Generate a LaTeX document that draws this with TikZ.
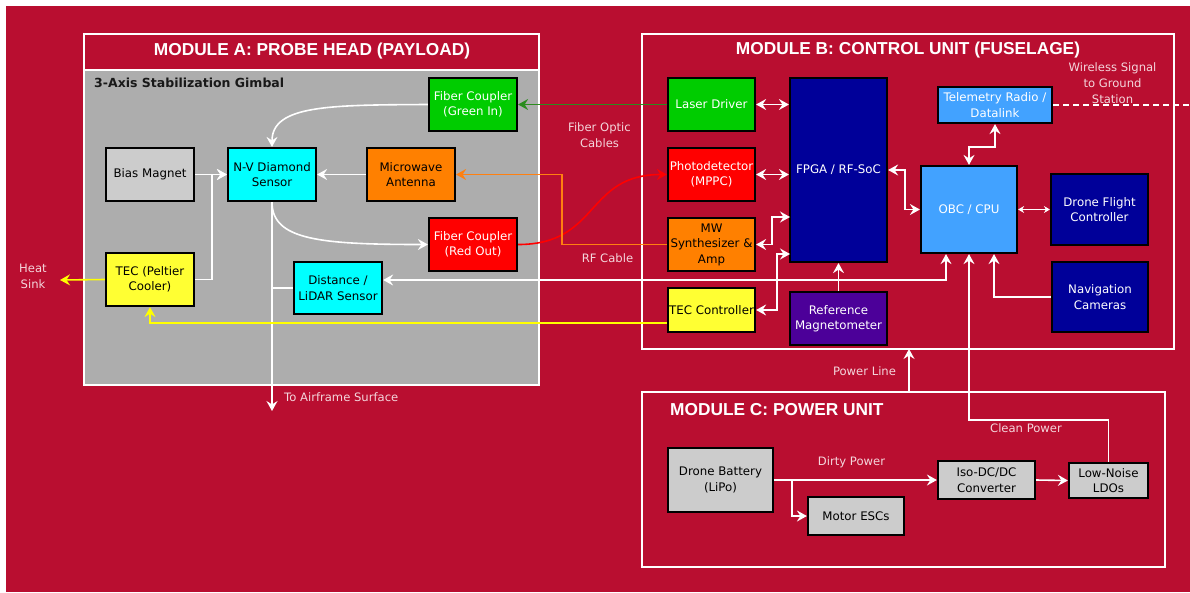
\documentclass[tikz,border=0pt]{standalone}
\usepackage{fontspec}
\setmainfont{DejaVu Sans}
\newfontfamily\hfont{Liberation Sans}
\usetikzlibrary{arrows.meta,calc}

\definecolor{bgred}{HTML}{B90E30}
\definecolor{gimbalgray}{HTML}{ADADAD}
\definecolor{lgray}{HTML}{CCCCCC}
\definecolor{fgreen}{HTML}{00CC00}
\definecolor{fred}{HTML}{FF0000}
\definecolor{forange}{HTML}{FF8000}
\definecolor{fyellow}{HTML}{FFFF33}
\definecolor{fcyan}{HTML}{00FFFF}
\definecolor{fnavy}{HTML}{000099}
\definecolor{fsky}{HTML}{42A2FF}
\definecolor{fpurple}{HTML}{4C0099}
\definecolor{lbl}{HTML}{F4D6DC}
\definecolor{fibergreen}{HTML}{2A8C1E}
\definecolor{rforange}{HTML}{FF8010}
\definecolor{tecyellow}{HTML}{FFFF00}

\newcommand{\boxfont}{\fontsize{11.8}{15.5}\selectfont}
\newcommand{\lblfont}{\fontsize{11.6}{16}\selectfont}

\tikzset{
  box/.style={draw=black, line width=2.2pt, minimum width=88pt, minimum height=53pt,
    align=center, inner sep=1pt, font=\boxfont},
  modbox/.style={draw=white, line width=2pt, inner sep=0pt},
  modtitle/.style={text=white, font=\hfont\bfseries\fontsize{17.3}{20}\selectfont, inner sep=0pt},
  lbltext/.style={text=lbl, font=\lblfont, align=center, inner sep=0pt},
  wire/.style={white, line width=1.6pt},
  thinwire/.style={white, line width=1pt},
}

\begin{document}
\begin{tikzpicture}[x=1pt, y=-1pt, >={Stealth[length=10pt,width=11pt,inset=3.5pt]}]
\useasboundingbox (0,0) rectangle (1190,592);
\fill[white] (0,0) rectangle (1190,592);
\fill[bgred] (6,6) rectangle (1190,592);

% ---------- Module frames ----------
\fill[gimbalgray] (84,70) rectangle (539,385);
\node[modbox, minimum width=455pt, minimum height=351pt] (modA) at (311.5,209.5) {};
\draw[white, line width=2pt] (84,70) -- (539,70);
\node[modtitle] (titleA) at (312,51) {MODULE A: PROBE HEAD (PAYLOAD)};
\node[anchor=west, text=black!90, font=\bfseries\fontsize{12.5}{14}\selectfont, inner sep=0pt]
  (gimbal) at (94,83) {3-Axis Stabilization Gimbal};

\node[modbox, minimum width=532pt, minimum height=315pt] (modB) at (908,191.5) {};
\node[modtitle] (titleB) at (908,50) {MODULE B: CONTROL UNIT (FUSELAGE)};

\node[modbox, minimum width=523pt, minimum height=175pt] (modC) at (903.5,479.5) {};
\node[modtitle, anchor=west] (titleC) at (670,410) {MODULE C: POWER UNIT};

% ---------- Module A: probe head ----------
\node[box, fill=fgreen, text=white] (gi) at (473,104.5) {Fiber Coupler\\(Green In)};
\node[box, fill=lgray, text=black] (bias) at (150,174.5) {Bias Magnet};
\node[box, fill=fcyan, text=black] (nv) at (272,174.5) {N-V Diamond\\Sensor};
\node[box, fill=forange, text=black] (mwa) at (411,174.5) {Microwave\\Antenna};
\node[box, fill=fred, text=white] (ro) at (473,244.5) {Fiber Coupler\\(Red Out)};
\node[box, fill=fyellow, text=black] (tec) at (150,279.5) {TEC (Peltier\\Cooler)};
\node[box, fill=fcyan, text=black, minimum height=52pt] (lidar) at (338,288) {Distance /\\LiDAR Sensor};

% ---------- Module B: control unit ----------
\node[box, fill=fgreen, text=white, minimum width=87pt] (ld) at (711.5,104.5) {Laser Driver};
\node[box, fill=fred, text=white, minimum width=87pt] (pd) at (711.5,174.5) {Photodetector\\(MPPC)};
\node[box, fill=forange, text=black, minimum width=87pt] (mws) at (711.5,244.5) {MW\\Synthesizer \&\\Amp};
\node[box, fill=fyellow, text=black, minimum width=87pt, minimum height=44pt] (tecc) at (711.5,310) {TEC Controller};
\node[box, fill=fnavy, text=white, minimum width=97pt, minimum height=184pt] (fpga) at (838.5,170) {FPGA / RF-SoC};
\node[box, fill=fpurple, text=white, minimum width=97pt] (refmag) at (838.5,318.5) {Reference\\Magnetometer};
\node[box, fill=fsky, text=white, minimum width=114pt, minimum height=36pt] (tel) at (995,105) {Telemetry Radio /\\Datalink};
\node[box, fill=fsky, text=white, minimum width=96pt, minimum height=87pt] (obc) at (969,209.5) {OBC / CPU};
\node[box, fill=fnavy, text=white, minimum width=97pt, minimum height=71pt] (dfc) at (1099.5,209.5) {Drone Flight\\Controller};
\node[box, fill=fnavy, text=white, minimum width=96pt, minimum height=70pt] (nav) at (1100,297) {Navigation\\Cameras};

% ---------- Module C: power unit ----------
\node[box, fill=lgray, text=black, minimum width=105pt, minimum height=64pt] (bat) at (720.5,480) {Drone Battery\\(LiPo)};
\node[box, fill=lgray, text=black, minimum width=96pt, minimum height=38pt] (esc) at (856,516) {Motor ESCs};
\node[box, fill=lgray, text=black, minimum width=97pt, minimum height=38pt] (iso) at (986.5,480) {Iso-DC/DC\\Converter};
\node[box, fill=lgray, text=black, minimum width=79pt, minimum height=35pt] (ldo) at (1108.5,480.5) {Low-Noise\\LDOs};

% ---------- free ends ----------
\coordinate (hs) at (60,280);
\coordinate (air) at (272,411);
\coordinate (ground) at (1190,105);
\coordinate (plC) at (909,392);
\coordinate (plB) at (909,349);

% ---------- connectors inside the probe head ----------
\draw[wire,->] (gi.west) .. controls (330,105) and (272,105) .. (nv.north);
\draw[wire,->] (bias.east) -- (nv.west);
\draw[wire,->] (tec.east) -- (212,279.5) |- (nv.west);
\draw[wire,->] (mwa.west) -- (nv.east);
\draw[wire,->] (nv.south) .. controls (272,240) and (320,244.5) .. (ro.west);
\draw[wire,->] (nv.south) -- (air);
\draw[wire] (lidar.west) -- (nv.south |- lidar.west);
\draw[tecyellow, line width=1.6pt, ->] (tec.west) -- (hs);

% ---------- cables between the modules ----------
\draw[fibergreen, line width=1.4pt, ->] (ld.west) -- (gi.east);
\draw[fred, line width=1.6pt, ->] (ro.east) .. controls (600,244.5) and (585,174.5) .. (pd.west);
\draw[rforange, line width=1.6pt, ->] (mws.west) -- (562,244.5) -- (562,174.5) -- (mwa.east);
\draw[tecyellow, line width=1.4pt, ->] ([yshift=-13pt]tecc.west) -- (150,323) -- (tec.south);
\draw[wire,<->] ([yshift=8pt]lidar.east) -- (946,280) -- ([xshift=-23pt]obc.south);

% ---------- connectors inside the control unit ----------
\draw[wire,<->] (ld.east) -- (ld.east -| fpga.west);
\draw[wire,<->] (pd.east) -- (pd.east -| fpga.west);
\draw[wire,<->] (mws.east) -- (772,244.5) -- (772,217) -- (790,217);
\draw[wire,<->] (tecc.east) -- (777,310) -- (777,254) -- (790,254);
\draw[wire,->] (refmag.north) -- (fpga.south);
\draw[wire,<->] (fpga.east) -| (905,209.5) -- (obc.west);
\draw[wire,<->] (tel.south) -- ++(0,23) -| (obc.north);
\draw[thinwire,{Stealth[length=6pt,width=7pt,inset=2pt]}-{Stealth[length=6pt,width=7pt,inset=2pt]}] (obc.east) -- (dfc.west);
\draw[wire,->] (nav.west) -| ([xshift=25pt]obc.south);
\draw[white, line width=1.5pt, dash pattern=on 6pt off 4pt] (tel.east) -- (ground);

% ---------- power distribution ----------
\draw[wire,->] (plC) -- (plB);
\draw[wire,->] (ldo.north) -- (1108.5,420) -| (obc.south);
\draw[wire,->] (bat.east) -- (iso.west);
\draw[wire,->] (792,480) |- (esc.west);
\draw[wire,->] (iso.east) -- (ldo.west);

% ---------- labels ----------
\node[lbltext] (lhs) at (33,276) {Heat\\Sink};
\node[lbltext, anchor=west] (lair) at (284,397) {To Airframe Surface};
\node[lbltext] (lfiber) at (599.5,135.5) {Fiber Optic\\Cables};
\node[lbltext] (lrf) at (607.5,258) {RF Cable};
\node[lbltext] (lwl) at (1112.5,83) {Wireless Signal\\to Ground\\Station};
\node[lbltext] (lpl) at (864.5,371) {Power Line};
\node[lbltext] (lcp) at (1026,428) {Clean Power};
\node[lbltext] (ldp) at (851.5,462) {Dirty Power};
\end{tikzpicture}
\end{document}
